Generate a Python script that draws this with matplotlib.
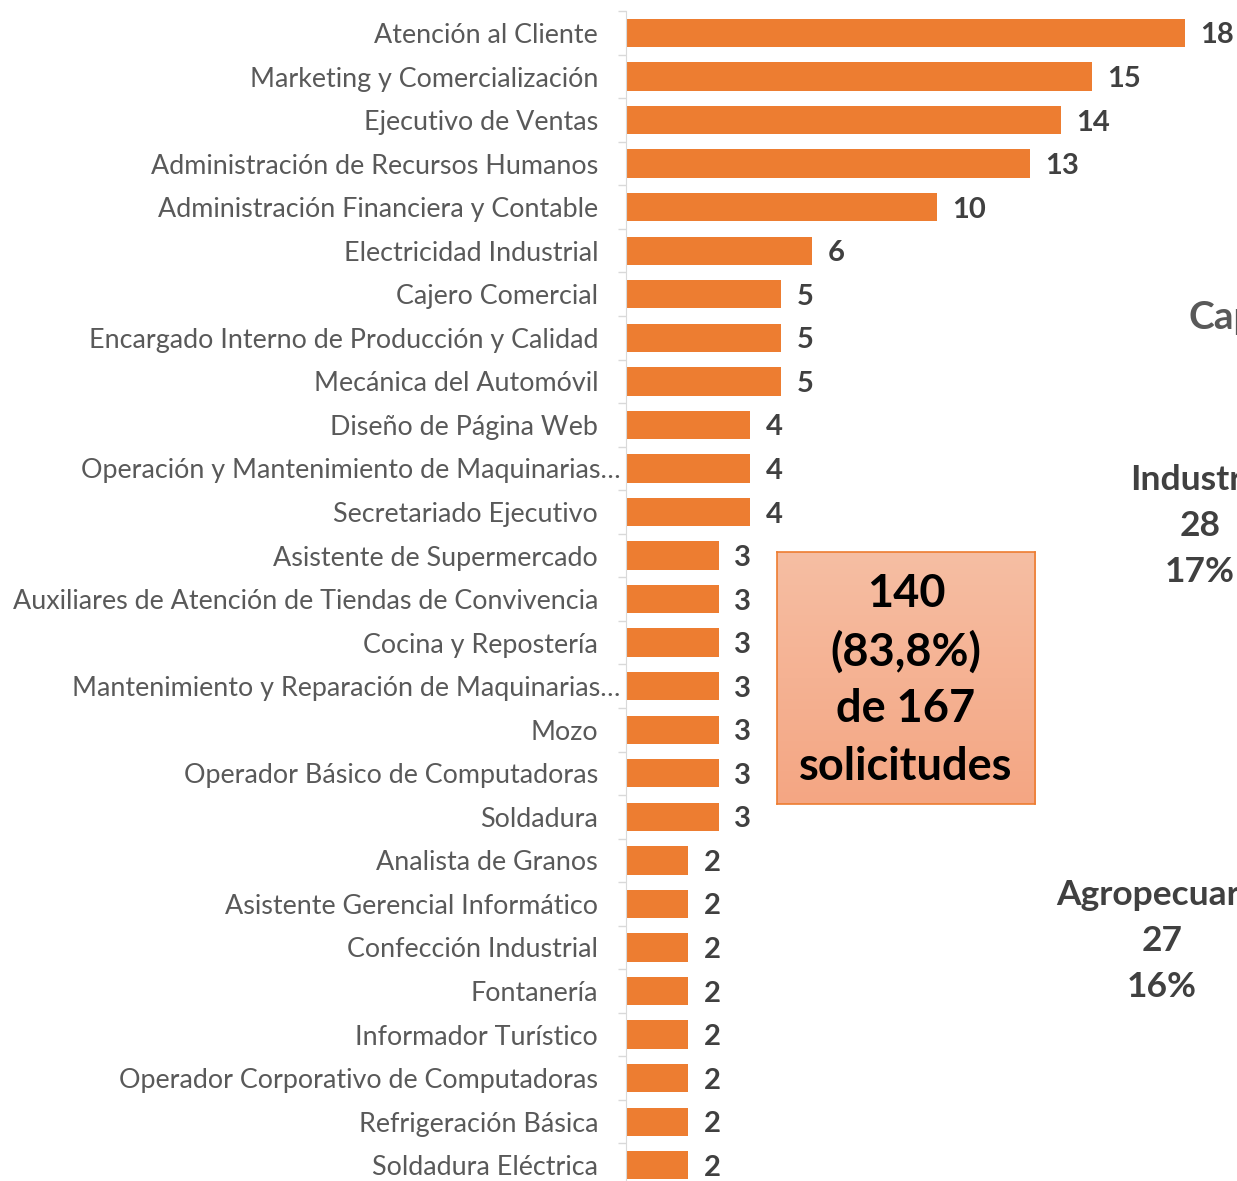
import numpy as np
import matplotlib.pyplot as plt
from matplotlib.transforms import ScaledTranslation

# Data
categories = [
    "Atención al Cliente",
    "Marketing y Comercialización",
    "Ejecutivo de Ventas",
    "Administración de Recursos Humanos",
    "Administración Financiera y Contable",
    "Electricidad Industrial",
    "Cajero Comercial",
    "Encargado Interno de Producción y Calidad",
    "Mecánica del Automóvil",
    "Diseño de Página Web",
    "Operación y Mantenimiento de Maquinarias…",
    "Secretariado Ejecutivo",
    "Asistente de Supermercado",
    "Auxiliares de Atención de Tiendas de Convivencia",
    "Cocina y Repostería",
    "Mantenimiento y Reparación de Maquinarias…",
    "Mozo",
    "Operador Básico de Computadoras",
    "Soldadura",
    "Analista de Granos",
    "Asistente Gerencial Informático",
    "Confección Industrial",
    "Fontanería",
    "Informador Turístico",
    "Operador Corporativo de Computadoras",
    "Refrigeración Básica",
    "Soldadura Eléctrica",
]
values = [18, 15, 14, 13, 10, 6, 5, 5, 5, 4, 4, 4, 3, 3, 3, 3, 3, 3, 3,
          2, 2, 2, 2, 2, 2, 2, 2]

box_lines = ["140", "(83,8%)", "de 167", "solicitudes"]

# text of the neighbouring chart, cut off at the right edge
side_title = "Capacitación"
sector_names = ["Industria", "Agropecuaria"]
sector_counts = [28, 27]
sector_pcts = ["17%", "16%"]

W, H = 1237, 1181
DPI = 100
BAR_COLOR = "#ED7D31"
LABEL_COLOR = "#595959"
VALUE_COLOR = "#404040"
FONT = ["Lato", "DejaVu Sans"]

plt.rcParams["font.family"] = FONT


def fx(px):
    return px / W


def fy(py):
    return 1 - py / H


fig = plt.figure(figsize=(W / DPI, H / DPI), dpi=DPI)

# main bar chart
ax = fig.add_axes([fx(626), fy(1187), fx(19 * 31.06), (1187 - 11.2) / H])
y = np.arange(len(categories))
ax.barh(y, values, height=0.65, color=BAR_COLOR)
ax.set_ylim(len(categories) - 0.5, -0.5)
ax.set_xlim(0, 19)

for yi, v in zip(y, values):
    ax.annotate(str(v), (v, yi), xytext=(11, 0), textcoords="offset points",
                va="center_baseline", ha="left", fontsize=21,
                fontweight="bold", color=VALUE_COLOR)

ax.set_yticks(y)
ax.set_yticklabels(categories, fontsize=19.4, color=LABEL_COLOR)
ax.tick_params(axis="y", which="major", length=0, pad=20)
ax.set_yticks(np.arange(-0.5, len(categories), 1), minor=True)
ax.tick_params(axis="y", which="minor", length=6, color="#d9d9d9", width=1)
ax.set_xticks([])
for s in ["top", "right", "bottom"]:
    ax.spines[s].set_visible(False)
ax.spines["left"].set_color("#d9d9d9")

# truncated labels sit closer to the axis
shift = ScaledTranslation(22 / DPI, 0, fig.dpi_scale_trans)
for lab in ax.get_yticklabels():
    if lab.get_text().endswith("…"):
        lab.set_transform(lab.get_transform() + shift)

# highlighted summary box with vertical gradient
bx0, by0, bx1, by1 = 777, 552, 1035, 804
bax = fig.add_axes([fx(bx0), fy(by1), fx(bx1 - bx0), (by1 - by0) / H])
top = np.array([246, 190, 163]) / 255
bot = np.array([244, 166, 131]) / 255
t = np.linspace(0, 1, 100)[:, None]
grad = top + (bot - top) * t
bax.imshow(grad[:, None, :].repeat(2, axis=1), aspect="auto",
           extent=[0, 1, 0, 1], origin="upper")
bax.set_xticks([])
bax.set_yticks([])
for s in bax.spines.values():
    s.set_color(BAR_COLOR)
    s.set_linewidth(1.2)

for i, line in enumerate(box_lines):
    fig.text(fx(906), fy(594 + 57.5 * i), line, ha="center", va="center",
             fontsize=32.5, fontweight="bold", color="black")

# cut-off labels from the adjacent chart
fig.text(fx(1188), fy(318), side_title, ha="left", va="center",
         fontsize=28, fontweight="bold", color=LABEL_COLOR)

sector_x = [1200, 1162]
sector_y = [480, 895]
for name, cnt, pct, sx, sy in zip(sector_names, sector_counts, sector_pcts,
                                  sector_x, sector_y):
    for j, txt in enumerate([name, str(cnt), pct]):
        fig.text(fx(sx), fy(sy + 46 * j), txt, ha="center", va="center",
                 fontsize=25.5, fontweight="bold", color=VALUE_COLOR)

fig.savefig("out.png", dpi=DPI)
